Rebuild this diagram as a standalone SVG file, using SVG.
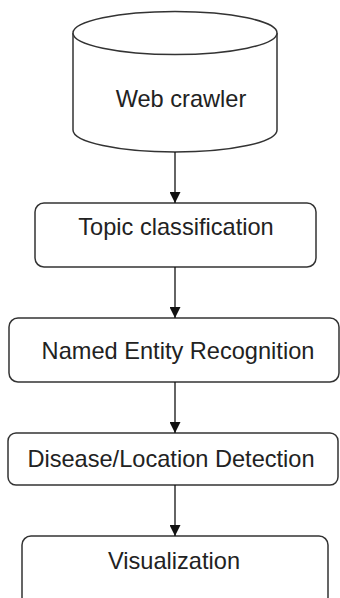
<svg xmlns="http://www.w3.org/2000/svg" width="340" height="598" viewBox="0 0 340 598">
<defs>
<style>
.box{fill:#fff;stroke:#333;stroke-width:1.5}
.lbl{font-family:"Liberation Sans",Arial,sans-serif;font-size:23.6px;fill:#222;text-anchor:middle}
.conn{stroke:#111;stroke-width:1.3;fill:none}
</style>
<marker id="ah" markerWidth="12" markerHeight="11" refX="11" refY="5.5" orient="auto" markerUnits="userSpaceOnUse">
<path d="M0,0 L11,5.5 L0,11 Z" fill="#111"/>
</marker>
</defs>
<rect width="340" height="598" fill="#fff"/>
<g id="web-crawler">
<path class="box" d="M73,33 L73,130 A102,22 0 0 0 277,130 L277,33"/>
<ellipse class="box" cx="175" cy="33" rx="102" ry="21.5"/>
<text class="lbl" x="181" y="107">Web crawler</text>
</g>
<g id="topic-classification">
<rect class="box" x="35" y="203" width="281" height="64" rx="9"/>
<text class="lbl" x="176" y="235">Topic classification</text>
</g>
<g id="named-entity-recognition">
<rect class="box" x="9" y="318" width="330" height="64" rx="9"/>
<text class="lbl" x="178" y="359">Named Entity Recognition</text>
</g>
<g id="disease-location-detection">
<rect class="box" x="8" y="433" width="330" height="52" rx="8"/>
<text class="lbl" x="171" y="467">Disease/Location Detection</text>
</g>
<g id="visualization">
<rect class="box" x="22" y="536" width="306" height="70" rx="9"/>
<text class="lbl" x="174" y="569">Visualization</text>
</g>
<g id="connectors">
<line class="conn" x1="175" y1="152" x2="175" y2="203" marker-end="url(#ah)"/>
<line class="conn" x1="175" y1="267" x2="175" y2="318" marker-end="url(#ah)"/>
<line class="conn" x1="175" y1="382" x2="175" y2="433" marker-end="url(#ah)"/>
<line class="conn" x1="175" y1="485" x2="175" y2="536" marker-end="url(#ah)"/>
</g>
</svg>
